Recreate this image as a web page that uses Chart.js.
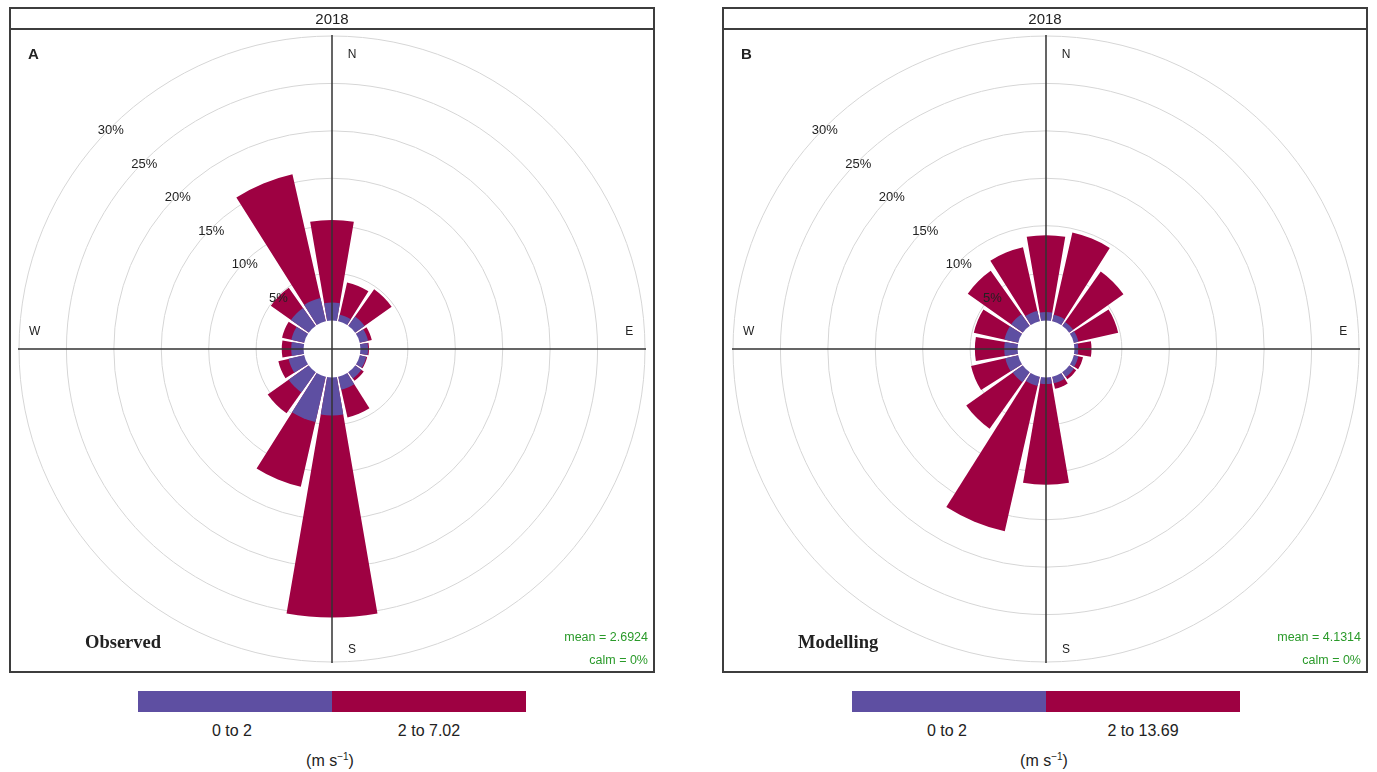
<!DOCTYPE html>
<html>
<head>
<meta charset="utf-8">
<script src="https://cdn.jsdelivr.net/npm/chart.js@4.4.1/dist/chart.umd.min.js"></script>
<style>
  body { margin: 0; width: 1377px; height: 772px; position: relative; background: #fff; overflow: hidden;
         font-family: "Liberation Sans", Arial, sans-serif; color: #222; }
  canvas { position: absolute; }
  .panel { position: absolute; top: 7px; width: 646px; height: 666px; border: 2px solid #3d3d3d; box-sizing: border-box; }
  .head { position: absolute; left: 0; right: 0; top: 0; height: 19px; border-bottom: 2px solid #3d3d3d;
          text-align: center; font-size: 15px; line-height: 19px; }
  .tag { position: absolute; left: 17px; top: 36px; font-weight: bold; font-size: 15px; }
  .name { position: absolute; left: 74px; top: 623px; font-family: "Liberation Serif", serif; font-weight: bold; font-size: 18.5px; }
  .stats { position: absolute; right: 5px; top: 617px; text-align: right; font-size: 12.5px; line-height: 23px; color: #2a9a2a; }
  .bar { position: absolute; top: 691px; height: 21px; }
  .lbl { position: absolute; transform: translateX(-50%); font-size: 16px; white-space: nowrap; }
  .lbl sup { font-size: 10px; }
</style>
</head>
<body>
<canvas id="obs" width="643" height="643" style="left:11px; top:28px;"></canvas>
<canvas id="mod" width="643" height="643" style="left:725px; top:28px;"></canvas>

<div class="panel" style="left:9px;">
  <div class="head">2018</div>
  <div class="tag">A</div>
  <div class="name">Observed</div>
  <div class="stats">mean = 2.6924<br>calm = 0%</div>
</div>
<div class="panel" style="left:722px;">
  <div class="head">2018</div>
  <div class="tag">B</div>
  <div class="name">Modelling</div>
  <div class="stats">mean = 4.1314<br>calm = 0%</div>
</div>

<div class="bar" style="left:138px; width:194px; background:#5e4fa2;"></div>
<div class="bar" style="left:332px; width:194px; background:#9e0142;"></div>
<div class="lbl" style="left:232px; top:722px;">0 to 2</div>
<div class="lbl" style="left:429px; top:722px;">2 to 7.02</div>
<div class="lbl" style="left:330px; top:751px;">(m s<sup>−1</sup>)</div>

<div class="bar" style="left:852px; width:194px; background:#5e4fa2;"></div>
<div class="bar" style="left:1046px; width:194px; background:#9e0142;"></div>
<div class="lbl" style="left:947px; top:722px;">0 to 2</div>
<div class="lbl" style="left:1143px; top:722px;">2 to 13.69</div>
<div class="lbl" style="left:1044px; top:751px;">(m s<sup>−1</sup>)</div>

<script>
const directions = ['N', 'NNE', 'NE', 'ENE', 'E', 'ESE', 'SE', 'SSE', 'S', 'SSW', 'SW', 'WSW', 'W', 'WNW', 'NW', 'NNW'];

// frequency (%) per direction, 0 to 2 m/s and above 2 m/s
const obsLow  = [1.9, 0.7, 1.2, 0.9, 0.8, 0.7, 0.8, 1.4, 4.0, 4.9, 2.6, 1.7, 1.3, 1.4, 2.3, 2.5];
const obsHigh = [8.7, 3.5, 3.5, 0.4, 0.1, 0.1, 0.3, 3.0, 21.3, 7.0, 2.7, 1.1, 1.0, 1.0, 2.6, 13.4];
const modLow  = [0.9, 0.7, 0.5, 0.5, 0.4, 0.5, 0.6, 0.7, 0.7, 1.0, 1.3, 1.4, 1.4, 1.5, 1.5, 1.1];
const modHigh = [8.1, 8.9, 6.5, 4.3, 1.4, 0.5, 0.3, 0.6, 10.6, 15.7, 6.0, 3.7, 3.1, 3.3, 5.6, 6.9];

const pctTicks = [5, 10, 15, 20, 25, 30];

const LOW_COL = '#5e4fa2';
const HIGH_COL = '#9e0142';
const BAR = 19.5;   // degrees drawn per 22.5 degree sector
const GAP = 22.5 - BAR;

// each sector followed by an empty gap slice
function withGaps(vals) {
  return vals.flatMap(v => [v, 0]);
}

const roseDecor = {
  id: 'roseDecor',
  afterDatasetsDraw(chart) {
    const s = chart.scales.r;
    const ctx = chart.ctx;
    const cx = s.xCenter, cy = s.yCenter, R = s.drawingArea;
    ctx.save();
    // hole in the middle
    ctx.fillStyle = '#fff';
    ctx.beginPath();
    ctx.arc(cx, cy, s.getDistanceFromCenterForValue(0), 0, Math.PI * 2);
    ctx.fill();
    // cross
    ctx.strokeStyle = '#333';
    ctx.lineWidth = 1.5;
    ctx.beginPath();
    ctx.moveTo(cx - R - 1, cy); ctx.lineTo(cx + R + 1, cy);
    ctx.moveTo(cx, cy - R - 1); ctx.lineTo(cx, cy + R + 1);
    ctx.stroke();
    // percent labels along NW
    ctx.fillStyle = '#222';
    ctx.textAlign = 'center';
    ctx.textBaseline = 'middle';
    ctx.font = '13px "Liberation Sans", Arial, sans-serif';
    pctTicks.forEach(v => {
      const r = s.getDistanceFromCenterForValue(v);
      ctx.fillText(v + '%', cx - r * Math.SQRT1_2, cy - r * Math.SQRT1_2 + 3);
    });
    // compass letters
    ctx.font = '12px "Liberation Sans", Arial, sans-serif';
    const d = R * 0.95, off = 20;
    ctx.fillText('N', cx + off, cy - d + 3);
    ctx.fillText('E', cx + d, cy - off + 3);
    ctx.fillText('S', cx + off, cy + d + 3);
    ctx.fillText('W', cx - d, cy - off + 3);
    ctx.restore();
  }
};

function makeRose(id, low, high) {
  const total = low.map((v, i) => v + high[i]);
  const angle = c => (c.dataIndex % 2 ? GAP : BAR);
  return new Chart(document.getElementById(id), {
    type: 'polarArea',
    data: {
      labels: directions.flatMap(d => [d, '']),
      datasets: [
        {
          label: '0 to 2',
          data: withGaps(low),
          backgroundColor: c => (c.dataIndex % 2 ? 'rgba(0,0,0,0)' : LOW_COL),
          borderWidth: 0,
          angle: angle
        },
        {
          label: 'above 2',
          data: withGaps(total),
          backgroundColor: c => (c.dataIndex % 2 ? 'rgba(0,0,0,0)' : HIGH_COL),
          borderWidth: 0,
          angle: angle
        }
      ]
    },
    options: {
      responsive: false,
      animation: false,
      events: [],
      layout: { padding: 8 },
      plugins: { legend: { display: false }, tooltip: { enabled: false } },
      scales: {
        r: {
          min: -3,
          max: 30,
          startAngle: -BAR / 2,
          ticks: { display: false },
          afterBuildTicks: scale => { scale.ticks = pctTicks.map(v => ({ value: v })); },
          grid: { circular: true, color: '#d6d6d6', lineWidth: 1 },
          angleLines: { display: false },
          pointLabels: { display: false }
        }
      }
    },
    plugins: [roseDecor]
  });
}

makeRose('obs', obsLow, obsHigh);
makeRose('mod', modLow, modHigh);
</script>
</body>
</html>
